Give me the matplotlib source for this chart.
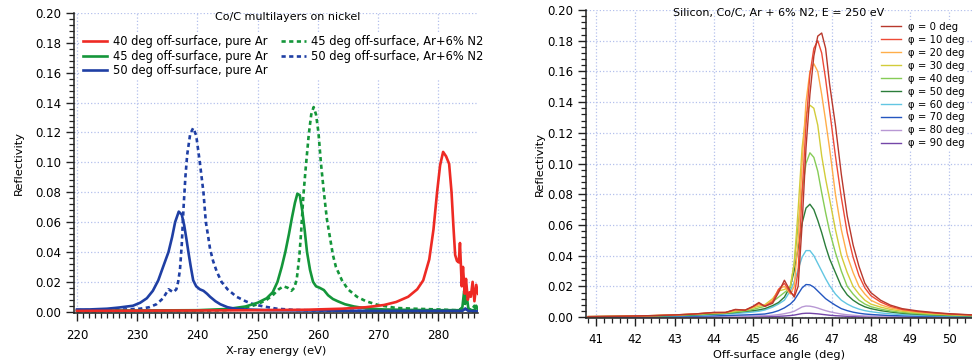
import numpy as np
import matplotlib.pyplot as plt
from matplotlib.ticker import MultipleLocator, AutoMinorLocator

# ---- left panel: Co/C multilayers on nickel ----
e_40_ar = [220, 230, 240, 250, 258, 264, 268, 271, 273, 275, 276.5, 277.5, 278.5, 279.2,
           279.8, 280.3, 280.8, 281.3, 281.8, 282.2, 282.5, 282.8, 283.1, 283.4, 283.6,
           283.9, 284.1, 284.4, 284.6, 284.9, 285.2, 285.4, 285.7, 286.0, 286.3, 286.6]
r_40_ar = [0.0005, 0.0007, 0.0008, 0.001, 0.0013, 0.002, 0.003, 0.0045, 0.0065, 0.01,
           0.015, 0.021, 0.035, 0.055, 0.08, 0.098, 0.107, 0.104, 0.099, 0.08, 0.058,
           0.038, 0.034, 0.033, 0.046, 0.017, 0.03, 0.012, 0.022, 0.008, 0.013, 0.01,
           0.02, 0.007, 0.018, 0.012]

e_45_ar = [220, 230, 240, 245, 248, 250, 251.5, 252.5, 253.3, 254.0, 254.6, 255.2, 255.7,
           256.2, 256.6, 257.0, 257.4, 257.8, 258.2, 258.7, 259.2, 259.7, 260.3, 261.0,
           261.7, 262.5, 263.3, 264.5, 266, 268, 271, 275, 280, 283.5, 284.0, 284.3,
           284.5, 284.7, 285.0, 285.5, 286.0, 286.3, 286.6]
r_45_ar = [0.0008, 0.0008, 0.001, 0.0018, 0.0035, 0.006, 0.009, 0.013, 0.02, 0.03, 0.04,
           0.052, 0.063, 0.073, 0.079, 0.078, 0.068, 0.055, 0.04, 0.028, 0.02, 0.017,
           0.016, 0.0145, 0.011, 0.0085, 0.007, 0.005, 0.0035, 0.0022, 0.0015, 0.0012,
           0.001, 0.001, 0.003, 0.014, 0.006, 0.011, 0.002, 0.001, 0.001, 0.004, 0.001]

e_50_ar = [220, 222, 225, 227, 229.3, 230.5, 231.6, 232.6, 233.5, 234.3, 235.2, 235.8,
           236.3, 236.9, 237.4, 237.8, 238.2, 238.5, 238.9, 239.3, 239.8, 240.4, 241.0,
           241.6, 242.1, 243.0, 243.8, 245, 246, 248, 252, 260, 270, 280, 284, 284.5,
           285, 286.6]
r_50_ar = [0.0015, 0.0015, 0.002, 0.0028, 0.004, 0.006, 0.009, 0.014, 0.021, 0.03, 0.04,
           0.05, 0.06, 0.067, 0.065, 0.058, 0.048, 0.04, 0.03, 0.021, 0.017, 0.015, 0.014,
           0.012, 0.01, 0.007, 0.005, 0.003, 0.0022, 0.0015, 0.001, 0.0008, 0.0005,
           0.0005, 0.0005, 0.002, 0.0005, 0.0003]

e_45_n2 = [220, 230, 240, 245, 248, 250, 251.5, 252.5, 253.5, 254.3, 255.0, 255.6, 256.1,
           256.5, 256.9, 257.2, 257.6, 258.0, 258.5, 258.9, 259.3, 259.7, 260.1, 260.5,
           261.0, 261.5, 262.0, 262.5, 263.0, 264.0, 265.0, 266.5, 268, 270, 273, 276,
           280, 283, 284, 284.5, 285, 285.5, 286, 286.6]
r_45_n2 = [0.0003, 0.0005, 0.0006, 0.001, 0.0025, 0.005, 0.008, 0.011, 0.015, 0.017,
           0.016, 0.014, 0.016, 0.022, 0.036, 0.052, 0.078, 0.097, 0.119, 0.132, 0.137,
           0.132, 0.12, 0.1, 0.08, 0.062, 0.05, 0.038, 0.03, 0.021, 0.015, 0.01, 0.007,
           0.0045, 0.0025, 0.002, 0.0015, 0.001, 0.002, 0.006, 0.002, 0.001, 0.004, 0.002]

e_50_n2 = [220, 225, 228, 230.5, 232, 233.2, 234.3, 235.2, 236.0, 236.5, 236.8, 237.1,
           237.4, 237.7, 238.0, 238.3, 238.8, 239.3, 239.8, 240.4, 241.0, 241.4, 241.8,
           242.1, 242.6, 243.2, 244.0, 245, 246.5, 248, 249.3, 251, 253.2, 256, 260, 265,
           270, 275, 280, 284, 284.5, 285, 286]
r_50_n2 = [0.001, 0.0012, 0.0015, 0.002, 0.003, 0.005, 0.009, 0.015, 0.013, 0.015, 0.02,
           0.028, 0.045, 0.07, 0.09, 0.105, 0.119, 0.123, 0.118, 0.1, 0.08, 0.06, 0.05,
           0.042, 0.034, 0.027, 0.02, 0.015, 0.01, 0.007, 0.005, 0.0035, 0.002, 0.0012,
           0.0008, 0.0006, 0.0005, 0.0005, 0.0005, 0.001, 0.002, 0.001, 0.0005]

# ---- right panel: Silicon, Co/C, Ar + 6% N2, E = 250 eV ----
angle = [40.8, 41.5, 42.0, 42.5, 43.0, 43.5, 44.0, 44.3, 44.55, 44.8, 45.0, 45.15, 45.3,
         45.5, 45.65, 45.8, 45.95, 46.05, 46.15, 46.25, 46.35, 46.45, 46.55, 46.65, 46.75,
         46.85, 46.95, 47.1, 47.25, 47.4, 47.55, 47.7, 47.85, 48.0, 48.25, 48.5, 48.8,
         49.2, 49.6, 50.0, 50.6]
phi_labels = ['φ = 0 deg', 'φ = 10 deg', 'φ = 20 deg', 'φ = 30 deg', 'φ = 40 deg',
              'φ = 50 deg', 'φ = 60 deg', 'φ = 70 deg', 'φ = 80 deg', 'φ = 90 deg']
phi_colors = ['#b8382c', '#ee4a36', '#ffae4a', '#d2cc3a', '#86cc56',
              '#2b7d3a', '#62c6e2', '#2456c0', '#b898d4', '#7446a8']
r_phi0 = [.0003, .0005, .0007, .001, .0014, .002, .003, .003, .005, .0045, .007, .0095,
          .007, .009, .016, .024, .017, .013, .02, .06, .11, .145, .17, .183, .185, .175,
          .152, .125, .093, .066, .047, .033, .022, .016, .011, .0078, .0055, .004, .003,
          .0022, .0014]
r_phi10 = [.0003, .0005, .0007, .001, .0014, .002, .003, .003, .0048, .0045, .0068, .009,
           .007, .01, .018, .022, .016, .014, .03, .08, .125, .158, .175, .18, .172, .155,
           .135, .105, .078, .055, .039, .027, .019, .014, .0098, .007, .005, .0036,
           .0027, .002, .0013]
r_phi20 = [.0003, .0005, .0007, .001, .0014, .002, .0028, .003, .0045, .0045, .0065, .008,
           .0075, .011, .018, .02, .015, .02, .05, .1, .14, .16, .165, .16, .145, .128,
           .11, .08, .057, .04, .029, .02, .015, .011, .008, .006, .0045, .0033, .0025,
           .0018, .0012]
r_phi30 = [.0003, .0005, .0007, .001, .0013, .0019, .0026, .0028, .004, .0045, .006, .007,
           .008, .012, .017, .018, .02, .035, .07, .11, .132, .138, .136, .125, .105, .09,
           .077, .057, .04, .029, .02, .015, .011, .0085, .0065, .005, .0038, .0028,
           .0021, .0016, .001]
r_phi40 = [.0003, .0005, .0006, .0009, .0012, .0017, .0023, .0026, .0033, .004, .005, .006,
           .007, .01, .013, .016, .019, .035, .06, .082, .1, .107, .104, .095, .081, .068,
           .056, .042, .03, .02, .015, .011, .0085, .0068, .0052, .004, .003, .0022,
           .0017, .0013, .0009]
r_phi50 = [.0002, .0004, .0005, .0007, .001, .0014, .002, .0024, .003, .0037, .0042,
           .0047, .0055, .0075, .0095, .013, .02, .03, .045, .061, .071, .0735, .07, .063,
           .055, .046, .038, .029, .02, .0145, .011, .0085, .0067, .0055, .0042, .0033,
           .0025, .0018, .0014, .001, .0007]
r_phi60 = [.0002, .0003, .0004, .0006, .0008, .0011, .0016, .0019, .0023, .0028, .0033,
           .0038, .0046, .0065, .0085, .011, .017, .023, .031, .039, .0433, .0433, .04,
           .035, .03, .025, .0205, .015, .011, .0085, .0066, .0052, .0042, .0035, .0027,
           .0021, .0016, .0012, .0009, .0007, .0005]
r_phi70 = [.0001, .0002, .0002, .0003, .0004, .0006, .0008, .001, .0012, .0014, .0016,
           .0018, .002, .003, .0042, .006, .0085, .011, .015, .019, .0212, .021, .0195,
           .017, .0145, .012, .0102, .0077, .0055, .0042, .0032, .0025, .002, .0017,
           .0013, .001, .0008, .0006, .0005, .0004, .0003]
r_phi80 = [.0001, .0001, .0001, .0001, .0002, .0002, .0003, .0004, .0005, .0006, .0007,
           .0008, .0009, .0012, .0016, .0022, .003, .0038, .0052, .0066, .0072, .0071,
           .0066, .0059, .005, .0042, .0035, .0027, .002, .0015, .0012, .0009, .0007,
           .0006, .0005, .0004, .0003, .0002, .0002, .0001, .0001]
r_phi90 = [0, 0, 0, .0001, .0001, .0001, .0001, .0001, .0002, .0002, .0002, .0003, .0003,
           .0004, .0005, .0007, .001, .0013, .0018, .0023, .0025, .0025, .0023, .0021,
           .0018, .0015, .0012, .0009, .0007, .0005, .0004, .0003, .0003, .0002, .0002,
           .0001, .0001, .0001, .0001, 0, 0]
r_phi = [r_phi0, r_phi10, r_phi20, r_phi30, r_phi40, r_phi50, r_phi60, r_phi70, r_phi80,
         r_phi90]

RED, GREEN, BLUE = '#ee2a24', '#14963a', '#1f3fa4'
GRID = '#b4c0ec'
plt.rcParams['font.family'] = 'DejaVu Sans'


def style_axes(ax, ymin, ylabelpad):
    ax.set_ylim(ymin, 0.2)
    ax.yaxis.set_major_locator(MultipleLocator(0.02))
    ax.yaxis.set_minor_locator(AutoMinorLocator(5))
    ax.yaxis.set_major_formatter(plt.FormatStrFormatter('%.2f'))
    for s in ['top', 'right']:
        ax.spines[s].set_visible(False)
    for s in ['left', 'bottom']:
        ax.spines[s].set_linewidth(1.1)
        ax.spines[s].set_color('#222222')
    ax.tick_params(which='major', direction='out', length=6, width=1.0, labelsize=8.5,
                   pad=3, color='#222222')
    ax.tick_params(axis='x', which='major', pad=5)
    ax.tick_params(which='minor', direction='out', length=3.5, width=0.9, color='#222222')
    ax.grid(True, which='major', color=GRID, linestyle=':', linewidth=0.9)
    ax.set_axisbelow(True)
    ax.set_ylabel('Reflectivity', fontsize=8.2, labelpad=ylabelpad)


fig = plt.figure(figsize=(9.72, 3.61), dpi=100)

ax1 = fig.add_axes([0.0761, 0.1316, 0.4157, 0.8324])
l4 = ax1.plot(e_45_n2, r_45_n2, color=GREEN, lw=1.9, dashes=(1.6, 1.3),
              label='45 deg off-surface, Ar+6% N2')[0]
l5 = ax1.plot(e_50_n2, r_50_n2, color=BLUE, lw=1.9, dashes=(1.6, 1.3),
              label='50 deg off-surface, Ar+6% N2')[0]
l2 = ax1.plot(e_45_ar, r_45_ar, color=GREEN, lw=1.9,
              label='45 deg off-surface, pure Ar')[0]
l3 = ax1.plot(e_50_ar, r_50_ar, color=BLUE, lw=1.9,
              label='50 deg off-surface, pure Ar')[0]
l1 = ax1.plot(e_40_ar, r_40_ar, color=RED, lw=1.9,
              label='40 deg off-surface, pure Ar')[0]
ax1.set_xlim(219.5, 286.6)
ax1.xaxis.set_major_locator(MultipleLocator(10))
ax1.xaxis.set_minor_locator(MultipleLocator(1))
style_axes(ax1, -0.0012, 8)
ax1.set_xlabel('X-ray energy (eV)', fontsize=8.2, labelpad=3)
ax1.text(0.53, 0.987, 'Co/C multilayers on nickel', transform=ax1.transAxes,
         ha='center', va='center', fontsize=8)
ax1.legend(handles=[l1, l2, l3, l4, l5], ncol=2, loc='upper left',
           bbox_to_anchor=(0.0166, 0.933), fontsize=8.3, frameon=True,
           fancybox=False, edgecolor='none', framealpha=1, borderpad=0.2,
           handlelength=2.1, handletextpad=0.5, columnspacing=1.2,
           labelspacing=0.12, borderaxespad=0)

ax2 = fig.add_axes([0.6029, 0.1191, 0.3971, 0.8532])
for r, c, lab in zip(r_phi[::-1], phi_colors[::-1], phi_labels[::-1]):
    ax2.plot(angle, r, color=c, lw=1.0, label=lab)
ax2.set_xlim(40.745, 50.58)
ax2.xaxis.set_major_locator(MultipleLocator(1))
ax2.xaxis.set_minor_locator(MultipleLocator(0.2))
style_axes(ax2, -0.0006, 2)
ax2.set_xlabel('Off-surface angle (deg)', fontsize=8.2, labelpad=3)
ax2.text(0.5, 0.99, 'Silicon, Co/C, Ar + 6% N2, E = 250 eV', transform=ax2.transAxes,
         ha='center', va='center', fontsize=8)
h, lbl = ax2.get_legend_handles_labels()
ax2.legend(h[::-1], lbl[::-1], loc='upper right', bbox_to_anchor=(0.987, 0.968),
           fontsize=7.3, frameon=True, fancybox=False, edgecolor='none', framealpha=1,
           borderpad=0.2, handlelength=2.0, handletextpad=0.7, labelspacing=0.29,
           borderaxespad=0)

fig.savefig('out.png', dpi=100)
